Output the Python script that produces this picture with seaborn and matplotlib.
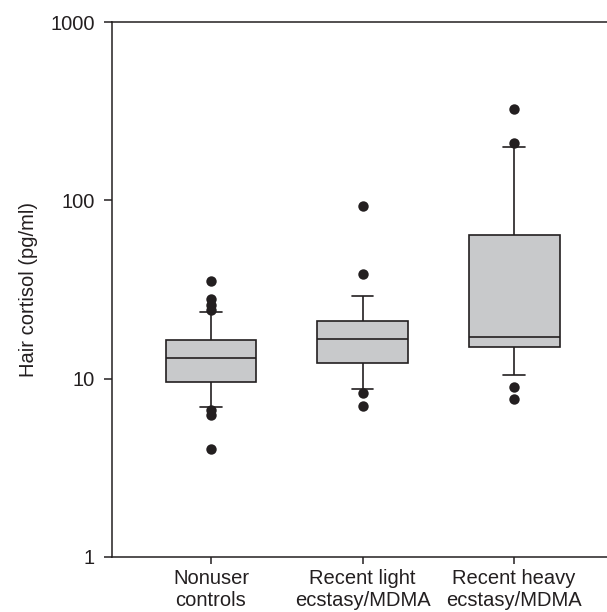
import numpy as np
import pandas as pd
import matplotlib
matplotlib.use("Agg")
import matplotlib.pyplot as plt
import seaborn as sns

# ---- data (pg/ml) ----
groups = ["Nonuser\ncontrols", "Recent light\necstasy/MDMA", "Recent heavy\necstasy/MDMA"]
whisker_low = [6.97, 8.75, 10.5]
q1 = [9.62, 12.3, 15.0]
median = [13.0, 16.6, 17.1]
q3 = [16.5, 21.1, 64.0]
whisker_high = [23.5, 29.1, 198.6]
outliers_nonuser = [35.5, 27.9, 25.9, 24.3, 6.67, 6.26, 4.02]
outliers_light = [93.0, 38.8, 8.28, 7.06]
outliers_heavy = [324.0, 209.0, 9.02, 7.66]

box_rows = []
for g, a, b, c, d, e in zip(groups, whisker_low, q1, median, q3, whisker_high):
    for v in (a, b, c, d, e):
        box_rows.append({"group": g, "value": v})
box_df = pd.DataFrame(box_rows)

out_rows = []
for g, vals in zip(groups, [outliers_nonuser, outliers_light, outliers_heavy]):
    for v in vals:
        out_rows.append({"group": g, "value": v})
out_df = pd.DataFrame(out_rows)

sns.set_style("ticks")
plt.rcParams["font.family"] = ["Liberation Sans", "DejaVu Sans"]

line_col = "#231f20"
fs = 14.5
fig = plt.figure(figsize=(6.07, 6.12), dpi=100)
ax = fig.add_axes([112 / 607, 1 - 557 / 612, 1 - 112 / 607 + 0.01, (557 - 22) / 612])
ax.set_yscale("log")

sns.boxplot(data=box_df, x="group", y="value", order=groups, whis=(0, 100),
            width=0.6, color="#c8c9cb", saturation=1, linecolor=line_col,
            linewidth=1.2, fliersize=0, capwidths=0.14, ax=ax)
sns.stripplot(data=out_df, x="group", y="value", order=groups, jitter=False,
              color=line_col, size=7.5, linewidth=0, ax=ax)

ax.set_ylim(1, 1000)
ax.set_xlim(-0.653, 2.653)
ax.set_yticks([1, 10, 100, 1000])
ax.set_yticklabels(["1", "10", "100", "1000"])
ax.yaxis.set_minor_locator(matplotlib.ticker.NullLocator())
ax.set_xlabel("")
ax.set_ylabel("Hair cortisol (pg/ml)", fontsize=fs, color=line_col, labelpad=9)
ax.tick_params(axis="y", direction="out", length=6, width=1.1, color=line_col,
               labelsize=fs, labelcolor=line_col, pad=6.5)
ax.tick_params(axis="x", direction="out", length=5, width=1.1, color=line_col,
               labelsize=fs, labelcolor=line_col, pad=4)
for lab in ax.get_xticklabels():
    lab.set_linespacing(1.15)
for s in ["left", "bottom", "top"]:
    ax.spines[s].set_color(line_col)
    ax.spines[s].set_linewidth(1.1)
ax.spines["right"].set_visible(False)

fig.savefig("out.png", dpi=100)
